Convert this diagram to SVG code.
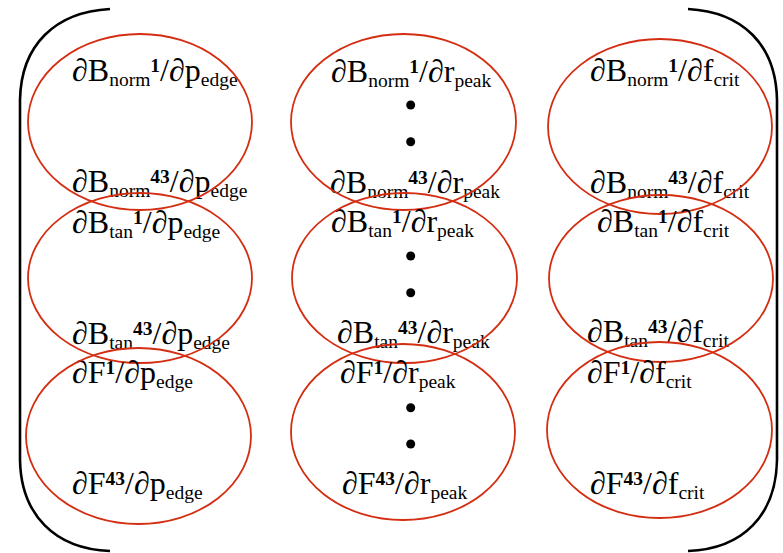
<svg xmlns="http://www.w3.org/2000/svg" width="783" height="553" viewBox="0 0 783 553">
<style>
text{font-family:"Liberation Serif","Times New Roman",serif;font-size:32px;fill:#000}
.sb{font-size:19.5px}
.sp{font-size:19.5px;font-weight:bold}
.ring{fill:none;stroke:#d42e12;stroke-width:1.8}
.br{fill:none;stroke:#000;stroke-width:2.6}
.dot{fill:#000}
</style>
<rect width="783" height="553" fill="#fff"/>
<g id="brackets">
<path class="br" d="M110,9 C55,12 21,45 20,100 L20,460 C21,515 55,549 110,551"/>
<path class="br" d="M688,9 C743,12 776,45 777,100 L777,460 C776,515 743,549 688,551"/>
</g>
<g id="n-norm-edge">
<text x="72" y="81">∂B<tspan class="sb" dy="5">norm</tspan><tspan class="sp" dy="-14">1</tspan><tspan dy="9">/∂p</tspan><tspan class="sb" dy="5">edge</tspan></text>
<text x="72" y="192">∂B<tspan class="sb" dy="5">norm</tspan><tspan class="sp" dy="-14">43</tspan><tspan dy="9">/∂p</tspan><tspan class="sb" dy="5">edge</tspan></text>
<ellipse class="ring" cx="140" cy="122" rx="112" ry="88"/>
</g>
<g id="n-tan-edge">
<text x="72" y="233">∂B<tspan class="sb" dy="5">tan</tspan><tspan class="sp" dy="-14">1</tspan><tspan dy="9">/∂p</tspan><tspan class="sb" dy="5">edge</tspan></text>
<text x="72" y="344">∂B<tspan class="sb" dy="5">tan</tspan><tspan class="sp" dy="-14">43</tspan><tspan dy="9">/∂p</tspan><tspan class="sb" dy="5">edge</tspan></text>
<ellipse class="ring" cx="140" cy="278" rx="112" ry="85"/>
</g>
<g id="n-f-edge">
<text x="72" y="383">∂F<tspan class="sp" dy="-9">1</tspan><tspan dy="9">/∂p</tspan><tspan class="sb" dy="5">edge</tspan></text>
<text x="72" y="494">∂F<tspan class="sp" dy="-9">43</tspan><tspan dy="9">/∂p</tspan><tspan class="sb" dy="5">edge</tspan></text>
<ellipse class="ring" cx="138.5" cy="436" rx="112.5" ry="88"/>
</g>
<g id="n-norm-peak">
<text x="331" y="82">∂B<tspan class="sb" dy="5">norm</tspan><tspan class="sp" dy="-14">1</tspan><tspan dy="9">/∂r</tspan><tspan class="sb" dy="5">peak</tspan></text>
<circle class="dot" cx="410.7" cy="105" r="4.5"/>
<circle class="dot" cx="410.7" cy="141.7" r="4.5"/>
<text x="330" y="193">∂B<tspan class="sb" dy="5">norm</tspan><tspan class="sp" dy="-14">43</tspan><tspan dy="9">/∂r</tspan><tspan class="sb" dy="5">peak</tspan></text>
<ellipse class="ring" cx="403.5" cy="122" rx="112.5" ry="88"/>
</g>
<g id="n-tan-peak">
<text x="331" y="232">∂B<tspan class="sb" dy="5">tan</tspan><tspan class="sp" dy="-14">1</tspan><tspan dy="9">/∂r</tspan><tspan class="sb" dy="5">peak</tspan></text>
<circle class="dot" cx="410.7" cy="256" r="4.5"/>
<circle class="dot" cx="410.7" cy="292.7" r="4.5"/>
<text x="337" y="343">∂B<tspan class="sb" dy="5">tan</tspan><tspan class="sp" dy="-14">43</tspan><tspan dy="9">/∂r</tspan><tspan class="sb" dy="5">peak</tspan></text>
<ellipse class="ring" cx="404.5" cy="278" rx="112.5" ry="85"/>
</g>
<g id="n-f-peak">
<text x="340" y="383">∂F<tspan class="sp" dy="-9">1</tspan><tspan dy="9">/∂r</tspan><tspan class="sb" dy="5">peak</tspan></text>
<circle class="dot" cx="410.7" cy="407.7" r="4.5"/>
<circle class="dot" cx="410.7" cy="444" r="4.5"/>
<text x="342" y="494">∂F<tspan class="sp" dy="-9">43</tspan><tspan dy="9">/∂r</tspan><tspan class="sb" dy="5">peak</tspan></text>
<ellipse class="ring" cx="403" cy="432" rx="112" ry="88"/>
</g>
<g id="n-norm-crit">
<text x="590" y="81">∂B<tspan class="sb" dy="5">norm</tspan><tspan class="sp" dy="-14">1</tspan><tspan dy="9">/∂f</tspan><tspan class="sb" dy="5">crit</tspan></text>
<text x="590" y="193">∂B<tspan class="sb" dy="5">norm</tspan><tspan class="sp" dy="-14">43</tspan><tspan dy="9">/∂f</tspan><tspan class="sb" dy="5">crit</tspan></text>
<ellipse class="ring" cx="660" cy="126.5" rx="112" ry="87.5"/>
</g>
<g id="n-tan-crit">
<text x="597" y="232">∂B<tspan class="sb" dy="5">tan</tspan><tspan class="sp" dy="-14">1</tspan><tspan dy="9">/∂f</tspan><tspan class="sb" dy="5">crit</tspan></text>
<text x="587" y="342">∂B<tspan class="sb" dy="5">tan</tspan><tspan class="sp" dy="-14">43</tspan><tspan dy="9">/∂f</tspan><tspan class="sb" dy="5">crit</tspan></text>
<ellipse class="ring" cx="661" cy="278.5" rx="112" ry="83.5"/>
</g>
<g id="n-f-crit">
<text x="587" y="383">∂F<tspan class="sp" dy="-9">1</tspan><tspan dy="9">/∂f</tspan><tspan class="sb" dy="5">crit</tspan></text>
<text x="590" y="494">∂F<tspan class="sp" dy="-9">43</tspan><tspan dy="9">/∂f</tspan><tspan class="sb" dy="5">crit</tspan></text>
<ellipse class="ring" cx="659.5" cy="430" rx="112.5" ry="88"/>
</g>
<g id="connectors"/>
</svg>
